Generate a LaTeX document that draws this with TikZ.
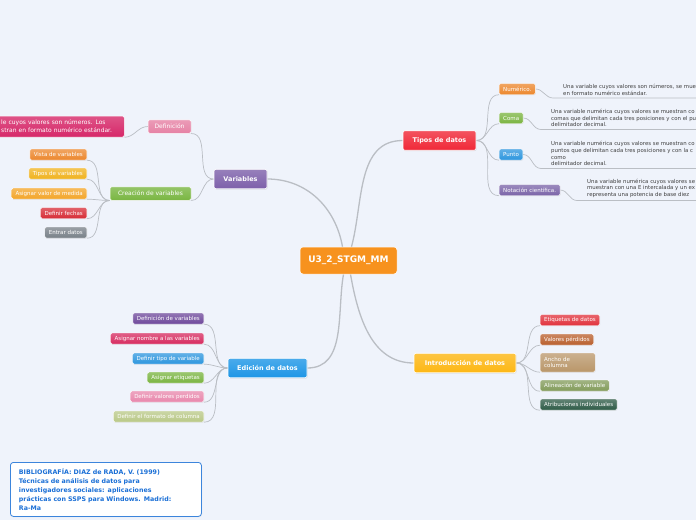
\documentclass[tikz,border=0pt]{standalone}
\usepackage{fontspec}
\setmainfont{DejaVu Sans}
\usetikzlibrary{calc,shadows,backgrounds}
\definecolor{bgblue}{RGB}{239,243,251}
\definecolor{linegray}{RGB}{186,190,196}
\definecolor{chub}{RGB}{247,146,30}
\definecolor{cvar}{RGB}{125,96,170}
\definecolor{ctip}{RGB}{240,40,55}
\definecolor{cedi}{RGB}{30,150,230}
\definecolor{citr}{RGB}{253,183,20}
\definecolor{cdef}{RGB}{230,130,165}
\definecolor{cdbox}{RGB}{214,40,105}
\definecolor{ccre}{RGB}{122,182,66}
\definecolor{lorange}{RGB}{236,135,45}
\definecolor{lgold}{RGB}{240,178,30}
\definecolor{lamber}{RGB}{243,165,40}
\definecolor{lred}{RGB}{215,45,55}
\definecolor{lgray}{RGB}{120,128,136}
\definecolor{lgreen}{RGB}{122,180,65}
\definecolor{lblue}{RGB}{45,150,222}
\definecolor{lpurple}{RGB}{122,100,168}
\definecolor{ldpurple}{RGB}{110,72,155}
\definecolor{lcrimson}{RGB}{214,42,95}
\definecolor{lpink}{RGB}{232,135,172}
\definecolor{lolive}{RGB}{185,200,135}
\definecolor{lred2}{RGB}{225,50,60}
\definecolor{lsienna}{RGB}{185,95,45}
\definecolor{ltan}{RGB}{185,150,105}
\definecolor{lsage}{RGB}{130,155,90}
\definecolor{ldgreen}{RGB}{45,90,70}
\definecolor{bibblue}{RGB}{26,111,214}

\begin{document}
\begin{tikzpicture}[x=1pt,y=-1pt,
   hub/.style={fill=chub,draw=white,line width=0.5pt,rounded corners=3pt,text=white,
               font=\bfseries\fontsize{9}{11}\selectfont,minimum width=97pt,minimum height=27pt},
   topic/.style={top color=#1!80!white,bottom color=#1,draw=white,line width=0.6pt,
                 rounded corners=2pt,text=white,font=\bfseries\fontsize{6.5}{8}\selectfont,
                 minimum height=19.5pt,inner xsep=2pt,
                 drop shadow={opacity=0.2,shadow xshift=0.6pt,shadow yshift=-0.8pt}},
   sub/.style={top color=#1!80!white,bottom color=#1,draw=white,line width=0.5pt,
               rounded corners=1.5pt,text=white,font=\fontsize{6}{8}\selectfont,
               minimum height=13.5pt,inner xsep=2pt,inner ysep=1pt,
               drop shadow={opacity=0.15,shadow xshift=0.5pt,shadow yshift=-0.7pt}},
   leaf/.style={top color=#1!75!white,bottom color=#1,draw=white,line width=0.4pt,
                rounded corners=1.5pt,text=white,font=\fontsize{5.5}{6.8}\selectfont,
                minimum height=11pt,inner xsep=4pt,inner ysep=0pt,
                drop shadow={opacity=0.15,shadow xshift=0.5pt,shadow yshift=-0.7pt}},
   note/.style={anchor=south west,align=left,text=black!75,inner xsep=10pt,inner ysep=2.5pt,
                font=\fontsize{5.4}{6.7}\selectfont},
   main/.style={draw=linegray,line width=1.3pt},
   twig/.style={draw=linegray,line width=0.7pt},
   bib/.style={fill=white,draw=bibblue!85!white,line width=0.8pt,rounded corners=3pt,
               text=bibblue,font=\bfseries\fontsize{6.3}{9}\selectfont,align=left,
               inner xsep=8.5pt,minimum height=54pt,
               drop shadow={opacity=0.15,shadow xshift=0.6pt,shadow yshift=-0.8pt}}]
  \useasboundingbox (0,0) rectangle (696,520);

  % centre and main topics
  \node[hub] (c) at (348.5,260.5) {U3\_2\_STGM\_MM};
  \node[topic=cvar,minimum width=53pt] (var) at (240.5,179) {Variables};
  \node[topic=ctip,minimum width=73pt] (tip) at (439.5,140.5) {Tipos de datos};
  \node[topic=cedi,minimum width=79pt] (edi) at (267.5,368) {Edición de datos};
  \node[topic=citr,minimum width=102pt] (itr) at (465,363) {Introducción de datos};

  % Variables
  \node[sub=cdef,minimum width=43pt] (def) at (169.5,126.5) {Definición};
  \node[sub=ccre,minimum width=81pt] (cre) at (150.5,193.5) {Creación de variables};
  \node[sub=cdbox,anchor=west,text width=119pt,minimum height=21pt,inner xsep=4pt,align=left,
        font=\fontsize{6}{8}\selectfont] (dbox) at (-3,126.5)
       {le cuyos valores son números. Los\\stran en formato numérico estándar.};
  \node[leaf=lorange,anchor=east] (vis) at (87,154.5) {Vista de variables};
  \node[leaf=lgold,anchor=east] (tva) at (87,173.5) {Tipos de variables};
  \node[leaf=lamber,anchor=east] (asv) at (87,193.5) {Asignar valor de medida};
  \node[leaf=lred,anchor=east] (dfe) at (87,213) {Definir fechas};
  \node[leaf=lgray,anchor=east] (ent) at (87,232.5) {Entrar datos};

  % Tipos de datos
  \node[leaf=lorange,anchor=west] (num) at (499,89) {Numérico.};
  \node[leaf=lgreen,anchor=west] (com) at (499,118) {Coma};
  \node[leaf=lblue,anchor=west] (pun) at (499,154.5) {Punto};
  \node[leaf=lpurple,anchor=west] (nota) at (499,190) {Notación científica.};
  \node[note] (nnum) at (553,98)
       {Una variable cuyos valores son números, se mue\\en formato numérico estándar.};
  \node[note] (ncom) at (541,129.5)
       {Una variable numérica cuyos valores se muestran co\\comas que delimitan cada tres posiciones y con el pu\\delimitador decimal.};
  \node[note] (npun) at (541,168.5)
       {Una variable numérica cuyos valores se muestran co\\puntos que delimitan cada tres posiciones y con la c\\como\\delimitador decimal.};
  \node[note] (nnot) at (577,200.5)
       {Una variable numérica cuyos valores se\\muestran con una E intercalada y un ex\\representa una potencia de base diez};

  % Edición de datos
  \node[leaf=ldpurple,anchor=east] (dva) at (204,318.5) {Definición de variables};
  \node[leaf=lcrimson,anchor=east] (ano) at (204,338.5) {Asignar nombre a las variables};
  \node[leaf=lblue,anchor=east] (dti) at (204,358.5) {Definir tipo de variable};
  \node[leaf=lgreen,anchor=east] (aet) at (204,377.5) {Asignar etiquetas};
  \node[leaf=lpink,anchor=east] (dvp) at (204,396.5) {Definir valores perdidos};
  \node[leaf=lolive,anchor=east] (dfo) at (204,416.5) {Definir el formato de columna};

  % Introducción de datos
  \node[leaf=lred2,anchor=west] (eti) at (540,320) {Etiquetas de datos};
  \node[leaf=lsienna,anchor=west] (vpe) at (540,339.5) {Valores pérdidos};
  \node[leaf=ltan,anchor=west,text width=47pt,align=left,minimum height=19pt] (anc) at (540,362.5) {Ancho de\\columna};
  \node[leaf=lsage,anchor=west] (ali) at (540,385.5) {Alineación de variable};
  \node[leaf=ldgreen,anchor=west] (atr) at (540,404.5) {Atribuciones individuales};

  \node[bib,anchor=north west,text width=174pt] (bib) at (10,462)
       {BIBLIOGRAFÍA: DIAZ de RADA, V. (1999)\\Técnicas de análisis de datos para\\investigadores sociales: aplicaciones\\prácticas con SSPS para Windows. Madrid:\\Ra-Ma};

  \begin{scope}[on background layer]
    \fill[bgblue] (0,0) rectangle (696,520);
    \draw[main] ($(c.north)+(-6,0)$) to[out=100,in=0] (var.east);
    \draw[main] ($(c.north)+(3,0)$) to[out=75,in=180] (tip.west);
    \draw[main] ($(c.south)+(-5,0)$) to[out=-100,in=0] (edi.east);
    \draw[main] ($(c.south)+(2,0)$) to[out=-80,in=180] (itr.west);
    \draw[twig] (var.west) to[out=180,in=0] (def.south east);
    \draw[twig] (var.west) to[out=180,in=0] (cre.south east);
    \draw[twig] (def.west) to[out=180,in=0] (dbox.south east);
    \foreach \n in {vis,tva,asv,dfe,ent}
      \draw[twig] (cre.south west) to[out=180,in=0] (\n.south east);
    \foreach \n in {num,com,pun,nota}
      \draw[twig] (tip.east) to[out=0,in=180] (\n.south west);
    \draw[twig] (num.east) to[out=0,in=180] (nnum.south west) -- (nnum.south east);
    \draw[twig] (com.east) to[out=0,in=180] (ncom.south west) -- (ncom.south east);
    \draw[twig] (pun.east) to[out=0,in=180] (npun.south west) -- (npun.south east);
    \draw[twig] (nota.east) to[out=0,in=180] (nnot.south west) -- (nnot.south east);
    \foreach \n in {dva,ano,dti,aet,dvp,dfo}
      \draw[twig] (edi.west) to[out=180,in=0] (\n.south east);
    \foreach \n in {eti,vpe,anc,ali,atr}
      \draw[twig] (itr.east) to[out=0,in=180] (\n.south west);
  \end{scope}
\end{tikzpicture}
\end{document}
